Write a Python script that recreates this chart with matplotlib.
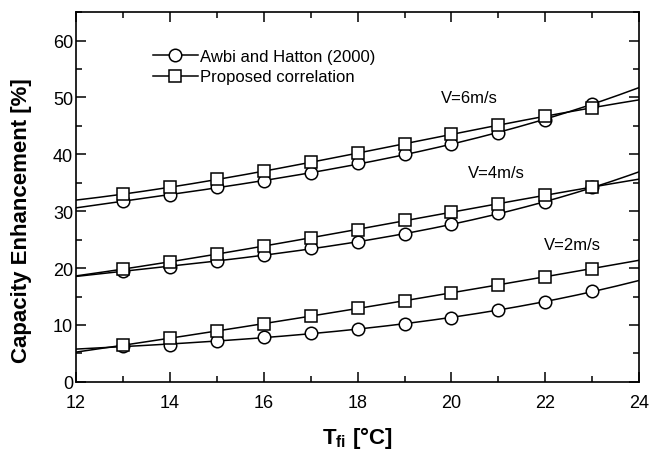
import numpy as np
import matplotlib
matplotlib.use("Agg")
import matplotlib.pyplot as plt
from matplotlib.ticker import MultipleLocator

plt.rcParams['font.family'] = ['Liberation Sans', 'DejaVu Sans']
plt.rcParams['mathtext.fontset'] = 'custom'
plt.rcParams['mathtext.rm'] = 'Liberation Sans'
plt.rcParams['mathtext.bf'] = 'Liberation Sans:bold'

# supply air temperature [°C]
t_fi = [13, 14, 15, 16, 17, 18, 19, 20, 21, 22, 23]

# Awbi and Hatton (2000)
awbi_v2 = [6.3, 6.5, 7.1, 7.8, 8.6, 9.3, 10.2, 11.3, 12.6, 14.1, 15.9]
awbi_v4 = [19.5, 20.2, 21.2, 22.3, 23.5, 24.6, 26.0, 27.7, 29.6, 31.6, 34.2]
awbi_v6 = [31.8, 32.8, 34.2, 35.3, 36.7, 38.4, 40.0, 41.8, 43.8, 46.1, 48.9]

# proposed correlation
prop_v2 = [6.4, 7.7, 9.0, 10.2, 11.5, 12.9, 14.3, 15.6, 17.1, 18.5, 19.9]
prop_v4 = [19.8, 21.1, 22.5, 23.9, 25.3, 26.7, 28.4, 29.8, 31.3, 32.9, 34.2]
prop_v6 = [33.0, 34.2, 35.6, 37.0, 38.6, 40.2, 41.9, 43.5, 45.1, 46.7, 48.2]

speed_labels = ['V=2m/s', 'V=4m/s', 'V=6m/s']

fig, ax = plt.subplots(figsize=(6.49, 4.52), dpi=100)
fig.subplots_adjust(left=0.117, right=0.985, top=0.971, bottom=0.153)

x_fit = np.linspace(12, 24, 200)
for i, (a, p) in enumerate([(awbi_v2, prop_v2), (awbi_v4, prop_v4), (awbi_v6, prop_v6)]):
    for vals, mk in [(a, 'o'), (p, 's')]:
        coef = np.polyfit(t_fi, vals, 3)
        ax.plot(x_fit, np.polyval(coef, x_fit), color='black', lw=1.1)
        ax.plot(t_fi, vals, linestyle='none', marker=mk, ms=9,
                mfc='white', mec='black', mew=1.1)

# legend handles
ax.plot([], [], color='black', lw=1.1, marker='o', ms=9, mfc='white',
        mec='black', mew=1.1, label='Awbi and Hatton (2000)')
ax.plot([], [], color='black', lw=1.1, marker='s', ms=9, mfc='white',
        mec='black', mew=1.1, label='Proposed correlation')
ax.legend(loc='upper left', bbox_to_anchor=(0.11, 0.942), frameon=False,
          fontsize=12, handlelength=2.7, handletextpad=0.1, labelspacing=0.35)

ax.text(19.78, 50.0, speed_labels[2], fontsize=12, va='center')
ax.text(20.36, 36.8, speed_labels[1], fontsize=12, va='center')
ax.text(21.96, 24.2, speed_labels[0], fontsize=12, va='center')

ax.set_xlim(12, 24)
ax.set_ylim(0, 65)
ax.xaxis.set_major_locator(MultipleLocator(2))
ax.xaxis.set_minor_locator(MultipleLocator(1))
ax.yaxis.set_major_locator(MultipleLocator(10))
ax.yaxis.set_minor_locator(MultipleLocator(5))
ax.tick_params(which='both', direction='in', top=True, right=True,
               width=1.1, labelsize=13)
ax.tick_params(which='major', length=7)
ax.tick_params(which='minor', length=4.5)
ax.tick_params(axis='x', which='major', pad=9)
ax.tick_params(axis='y', which='major', pad=2)
for s in ax.spines.values():
    s.set_linewidth(1.2)

ax.set_xlabel(r'$\mathbf{T_{fi}}$ [°C]', fontsize=16, fontweight='bold')
ax.set_ylabel('Capacity Enhancement [%]', fontsize=16, fontweight='bold')
ax.xaxis.set_label_coords(0.5, -0.115)
ax.yaxis.set_label_coords(-0.078, 0.44)

plt.savefig('out.png')
